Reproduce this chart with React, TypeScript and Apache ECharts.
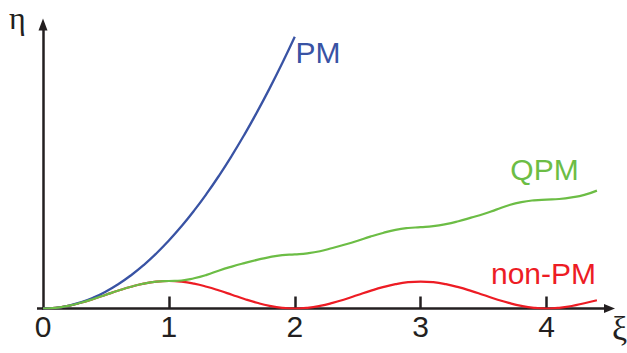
import { useEffect, useRef } from 'react';
import * as echarts from 'echarts';

// Normalised interaction length ξ (sample positions)
const xi = [
  0, 0.1, 0.2, 0.3, 0.4, 0.5, 0.6, 0.7, 0.8, 0.9,
  1.0, 1.1, 1.2, 1.3, 1.4, 1.5, 1.6, 1.7, 1.8, 1.9,
  2.0, 2.1, 2.2, 2.3, 2.4, 2.5, 2.6, 2.7, 2.8, 2.9,
  3.0, 3.1, 3.2, 3.3, 3.4, 3.5, 3.6, 3.7, 3.8, 3.9,
  4.0, 4.1, 4.2, 4.3, 4.4,
];

// PM (perfect phase matching), only drawn up to ξ = 2
const pmEta = [
  0, 0.01, 0.04, 0.09, 0.16, 0.25, 0.36, 0.49, 0.64, 0.81,
  1.0, 1.21, 1.44, 1.69, 1.96, 2.25, 2.56, 2.89, 3.24, 3.61,
  4.0,
];

// QPM (quasi phase matching)
const qpmEta = [
  0, 0.010, 0.039, 0.084, 0.140, 0.203, 0.265, 0.321, 0.366, 0.395,
  0.405, 0.412, 0.445, 0.495, 0.560, 0.617, 0.668, 0.715, 0.757, 0.786,
  0.797, 0.812, 0.842, 0.890, 0.942, 0.998, 1.058, 1.112, 1.158, 1.185,
  1.197, 1.212, 1.242, 1.285, 1.337, 1.390, 1.455, 1.520, 1.566, 1.592,
  1.603, 1.612, 1.635, 1.672, 1.735,
];

// non-PM (no phase matching)
const nonPmEta = [
  0, 0.010, 0.039, 0.084, 0.140, 0.203, 0.265, 0.321, 0.366, 0.395,
  0.405, 0.395, 0.366, 0.321, 0.265, 0.203, 0.140, 0.084, 0.039, 0.010,
  0, 0.010, 0.038, 0.082, 0.137, 0.198, 0.259, 0.314, 0.358, 0.387,
  0.397, 0.387, 0.358, 0.314, 0.259, 0.198, 0.137, 0.082, 0.038, 0.010,
  0, 0.010, 0.037, 0.078, 0.122,
];

const xTickValues = [0, 1, 2, 3, 4];
const xTickMarks = [1, 2, 3, 4];
const seriesNames = ['PM', 'QPM', 'non-PM'];
const axisNames = ['ξ', 'η'];

const AXIS = '#231F20';
const BLUE = '#3953A4';
const GREEN = '#6CBD45';
const RED = '#ED1C24';
const SANS = 'Liberation Sans, Arial, sans-serif';
const SERIF = 'Liberation Serif, Times New Roman, serif';

export default function App() {
  const ref = useRef<HTMLDivElement>(null);

  useEffect(() => {
    document.body.style.margin = '0';
    const chart = echarts.init(ref.current!, null, { renderer: 'svg' });
    const pair = (vals: number[]) => vals.map((v, i) => [xi[i], v]);

    chart.setOption({
      animation: false,
      backgroundColor: '#ffffff',
      grid: { left: 43, right: 17.5, top: 24.5, bottom: 44.5, containLabel: false },
      xAxis: {
        type: 'value',
        min: 0,
        max: 4.5,
        axisLine: {
          show: true,
          onZero: false,
          symbol: ['none', 'triangle'],
          symbolSize: [9, 11],
          lineStyle: { color: AXIS, width: 2.5 },
        },
        axisTick: {
          show: true,
          inside: true,
          length: 12,
          customValues: xTickMarks,
          lineStyle: { color: AXIS, width: 2.5 },
        },
        axisLabel: {
          customValues: xTickValues,
          color: AXIS,
          fontSize: 30,
          fontFamily: SANS,
          margin: 3,
        },
        splitLine: { show: false },
      },
      yAxis: {
        type: 'value',
        min: 0,
        max: 4.18,
        axisLine: {
          show: true,
          symbol: ['none', 'triangle'],
          symbolSize: [9, 12],
          lineStyle: { color: AXIS, width: 2.5 },
        },
        axisTick: { show: false },
        axisLabel: { show: false },
        splitLine: { show: false },
      },
      series: [
        {
          name: seriesNames[2],
          type: 'line',
          data: pair(nonPmEta),
          smooth: true,
          showSymbol: false,
          lineStyle: { color: RED, width: 2.2 },
          z: 2,
        },
        {
          name: seriesNames[0],
          type: 'line',
          data: pair(pmEta),
          smooth: true,
          showSymbol: false,
          lineStyle: { color: BLUE, width: 2.3 },
          z: 3,
        },
        {
          name: seriesNames[1],
          type: 'line',
          data: pair(qpmEta),
          smooth: true,
          showSymbol: false,
          lineStyle: { color: GREEN, width: 2.2 },
          z: 4,
        },
      ],
      graphic: [
        {
          type: 'line',
          shape: { x1: 37, y1: 308.5, x2: 44, y2: 308.5 },
          style: { stroke: AXIS, lineWidth: 2.5 },
        },
        {
          type: 'text',
          x: 295.4,
          y: 52.5,
          style: { text: seriesNames[0], fill: BLUE, fontSize: 30, fontFamily: SANS, align: 'left', verticalAlign: 'middle' },
        },
        {
          type: 'text',
          x: 510.3,
          y: 169.3,
          style: { text: seriesNames[1], fill: GREEN, fontSize: 30, fontFamily: SANS, align: 'left', verticalAlign: 'middle' },
        },
        {
          type: 'text',
          x: 491,
          y: 273.3,
          style: { text: seriesNames[2], fill: RED, fontSize: 30, fontFamily: SANS, align: 'left', verticalAlign: 'middle' },
        },
        {
          type: 'text',
          x: 9,
          y: 18,
          style: { text: axisNames[1], fill: AXIS, fontSize: 32, lineHeight: 26, fontFamily: SERIF, align: 'left', verticalAlign: 'middle' },
        },
        {
          type: 'text',
          x: 612,
          y: 328.5,
          style: { text: axisNames[0], fill: AXIS, fontSize: 34, lineHeight: 26, fontFamily: SERIF, align: 'left', verticalAlign: 'middle' },
        },
      ],
    });

    return () => chart.dispose();
  }, []);

  return <div ref={ref} style={{ width: 627, height: 353 }} />;
}
